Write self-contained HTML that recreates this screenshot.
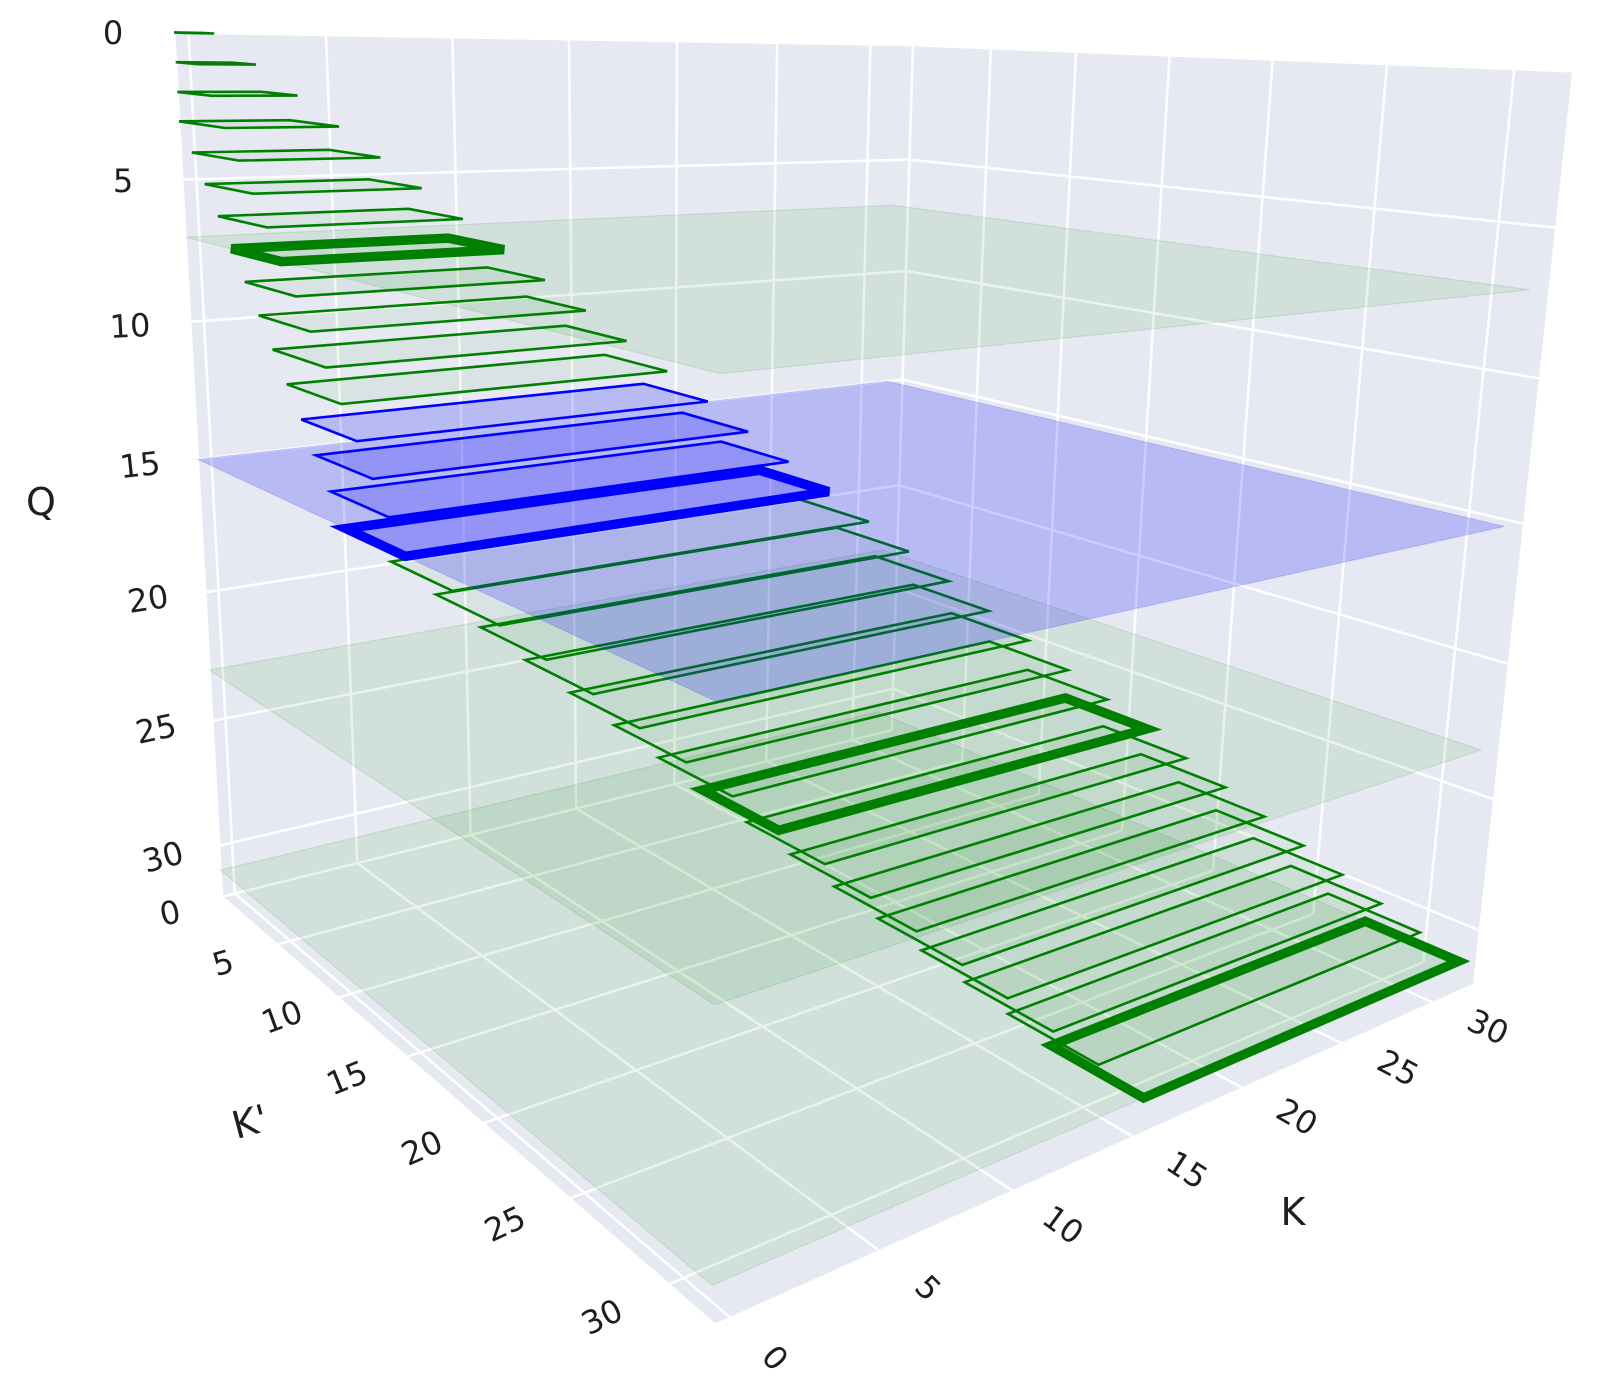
<!DOCTYPE html>
<html>
<head>
<meta charset="utf-8">
<style>
html,body{margin:0;padding:0;background:#ffffff;}
svg{display:block;}
text{font-family:"DejaVu Sans","Liberation Sans",sans-serif;fill:#1e1e1e;}
.tk{font-size:32px;}
.tt{font-size:38px;}
</style>
</head>
<body>
<svg id="s" xmlns="http://www.w3.org/2000/svg" width="1600" height="1385" viewBox="0 0 1600 1385">
<rect x="0" y="0" width="1600" height="1385" fill="#ffffff"/>
<g id="scene"></g>
<g id="labels">
  <!-- Q ticks -->
  <text class="tk" x="113" y="33" text-anchor="middle" dominant-baseline="central">0</text>
  <text class="tk" x="123" y="181" text-anchor="middle" dominant-baseline="central">5</text>
  <text class="tk" x="130" y="326" text-anchor="middle" dominant-baseline="central" transform="rotate(-3 130 326)">10</text>
  <text class="tk" x="140" y="465" text-anchor="middle" dominant-baseline="central" transform="rotate(-6 140 465)">15</text>
  <text class="tk" x="148" y="599" text-anchor="middle" dominant-baseline="central" transform="rotate(-9 148 599)">20</text>
  <text class="tk" x="156" y="729" text-anchor="middle" dominant-baseline="central" transform="rotate(-12 156 729)">25</text>
  <text class="tk" x="163" y="857" text-anchor="middle" dominant-baseline="central" transform="rotate(-15 163 857)">30</text>
  <text class="tt" x="41" y="502" text-anchor="middle" dominant-baseline="central">Q</text>
  <!-- K' ticks -->
  <text class="tk" x="170" y="913" text-anchor="middle" dominant-baseline="central" transform="rotate(-12 170 913)">0</text>
  <text class="tk" x="223" y="963" text-anchor="middle" dominant-baseline="central" transform="rotate(-16 223 963)">5</text>
  <text class="tk" x="282" y="1017" text-anchor="middle" dominant-baseline="central" transform="rotate(-20 282 1017)">10</text>
  <text class="tk" x="347" y="1078" text-anchor="middle" dominant-baseline="central" transform="rotate(-22 347 1078)">15</text>
  <text class="tk" x="422" y="1148" text-anchor="middle" dominant-baseline="central" transform="rotate(-24 422 1148)">20</text>
  <text class="tk" x="505" y="1224" text-anchor="middle" dominant-baseline="central" transform="rotate(-25 505 1224)">25</text>
  <text class="tk" x="602" y="1317" text-anchor="middle" dominant-baseline="central" transform="rotate(-26 602 1317)">30</text>
  <text class="tt" x="250" y="1122" text-anchor="middle" dominant-baseline="central" transform="rotate(-15 250 1122)">K'</text>
  <!-- K ticks -->
  <text class="tk" x="775" y="1358" text-anchor="middle" dominant-baseline="central" transform="rotate(48 775 1358)">0</text>
  <text class="tk" x="928" y="1288" text-anchor="middle" dominant-baseline="central" transform="rotate(45 928 1288)">5</text>
  <text class="tk" x="1063" y="1225" text-anchor="middle" dominant-baseline="central" transform="rotate(36 1063 1225)">10</text>
  <text class="tk" x="1187" y="1170" text-anchor="middle" dominant-baseline="central" transform="rotate(33 1187 1170)">15</text>
  <text class="tk" x="1297" y="1117" text-anchor="middle" dominant-baseline="central" transform="rotate(30 1297 1117)">20</text>
  <text class="tk" x="1398" y="1068" text-anchor="middle" dominant-baseline="central" transform="rotate(28 1398 1068)">25</text>
  <text class="tk" x="1488" y="1027" text-anchor="middle" dominant-baseline="central" transform="rotate(25 1488 1027)">30</text>
  <text class="tt" x="1293" y="1212" text-anchor="middle" dominant-baseline="central">K</text>
</g>
</svg>
<script>
(function(){
  var KMIN=-0.45,KMAX=32.4,PMIN=0,PMAX=32.1,QMIN=0,QMAX=32.1;
  var pts=[
    [-0.45,0,0,175,34],[32.4,0,0,915,45],[32.4,32.1,0,1572,71],
    [-0.45,0,32.1,220,895],[32.4,0,32.1,895,730],[32.4,32.1,32.1,1475,988],[-0.45,32.1,32.1,712,1325],
    [-0.45,0,5,183,180],[-0.45,0,10,190,320],[-0.45,0,30,217,843],
    [32.4,32.1,5,1555,227],[32.4,32.1,10,1538,378],
    [5,32.1,32.1,880,1250],[10,32.1,32.1,1010,1192],[15,32.1,32.1,1137,1137],[20,32.1,32.1,1247,1088],[25,32.1,32.1,1343,1043],
    [-0.45,5,32.1,280,945],[-0.45,10,32.1,342,998],[-0.45,15,32.1,410,1057],[-0.45,20,32.1,487,1125],[-0.45,25,32.1,573,1198],
    [0,0,0,188,34],[5,0,0,326,36],[10,0,0,454,38],[15,0,0,571,40],[20,0,0,678,41.5],[25,0,0,775,43],[30,0,0,867,44.3],
    [32.4,15,0,1170,55],[32.4,20,0,1274,59],[32.4,25,0,1388,63.5],[32.4,30,0,1516,68.5],
    [-0.5,0,2,178,92],[2.5,0,2,262,91],[2.5,3,2,297,96],[-0.5,3,2,213,97],
    [-0.5,2,5,205,183],[5.5,2,5,367,178],[5.5,6,5,421,188],[-0.5,6,5,252,193],
    [15.5,28,31,1052,1043],[15.5,32,31,1137,1092],[31.5,32,31,1452,960],[31.5,28,31,1360,923]
  ];
  function norm(K,Kp,Q){return [(K-KMIN)/(KMAX-KMIN),(Kp-PMIN)/(PMAX-PMIN),(Q-QMIN)/(QMAX-QMIN)];}
  var N=11,M=[],r=[],i,j;
  for(i=0;i<N;i++){M.push([]);r.push(0);for(j=0;j<N;j++)M[i].push(0);}
  function addRow(a,b){for(var i=0;i<N;i++){r[i]+=a[i]*b;for(var j=0;j<N;j++)M[i][j]+=a[i]*a[j];}}
  pts.forEach(function(p){
    var n=norm(p[0],p[1],p[2]),u=n[0],v=n[1],w=n[2];
    var x=(p[3]-800)/800,y=(p[4]-700)/700;
    addRow([u,v,w,1,0,0,0,0,-x*u,-x*v,-x*w],x);
    addRow([0,0,0,0,u,v,w,1,-y*u,-y*v,-y*w],y);
  });
  function solve(M,r){
    var n=r.length,A=M.map(function(row,i){return row.concat([r[i]]);}),c,k,f,t;
    for(c=0;c<n;c++){
      var piv=c;for(k=c+1;k<n;k++)if(Math.abs(A[k][c])>Math.abs(A[piv][c]))piv=k;
      t=A[c];A[c]=A[piv];A[piv]=t;
      for(k=0;k<n;k++){if(k===c)continue;f=A[k][c]/A[c][c];for(var jj=c;jj<=n;jj++)A[k][jj]-=f*A[c][jj];}
    }
    return A.map(function(row,i){return row[n]/row[i];});
  }
  var p=solve(M,r);
  function P(K,Kp,Q){
    var n=norm(K,Kp,Q),u=n[0],v=n[1],w=n[2];
    var W=p[8]*u+p[9]*v+p[10]*w+1;
    return [(p[0]*u+p[1]*v+p[2]*w+p[3])/W*800+800,(p[4]*u+p[5]*v+p[6]*w+p[7])/W*700+700];
  }
  var NS='http://www.w3.org/2000/svg',g=document.getElementById('scene');
  function poly(arr,attrs){
    var e=document.createElementNS(NS,'polygon');
    e.setAttribute('points',arr.map(function(q){return q[0].toFixed(1)+','+q[1].toFixed(1);}).join(' '));
    for(var k in attrs)e.setAttribute(k,attrs[k]);
    g.appendChild(e);
  }
  function line(a,b,attrs){
    var e=document.createElementNS(NS,'line');
    e.setAttribute('x1',a[0].toFixed(1));e.setAttribute('y1',a[1].toFixed(1));
    e.setAttribute('x2',b[0].toFixed(1));e.setAttribute('y2',b[1].toFixed(1));
    for(var k in attrs)e.setAttribute(k,attrs[k]);
    g.appendChild(e);
  }
  var pane='#E7E9F2';
  poly([P(KMIN,0,0),P(KMAX,0,0),P(KMAX,0,QMAX),P(KMIN,0,QMAX)],{fill:pane});
  poly([P(KMAX,0,0),P(KMAX,PMAX,0),P(KMAX,PMAX,QMAX),P(KMAX,0,QMAX)],{fill:pane});
  poly([P(KMIN,0,QMAX),P(KMAX,0,QMAX),P(KMAX,PMAX,QMAX),P(KMIN,PMAX,QMAX)],{fill:pane});
  var ga={stroke:'#ffffff','stroke-width':2.5};
  var t;
  for(t=0;t<=30;t+=5){
    line(P(t,0,0),P(t,0,QMAX),ga);
    line(P(KMIN,0,t),P(KMAX,0,t),ga);
    line(P(KMAX,t,0),P(KMAX,t,QMAX),ga);
    line(P(KMAX,0,t),P(KMAX,PMAX,t),ga);
    line(P(t,0,QMAX),P(t,PMAX,QMAX),ga);
    line(P(KMIN,t,QMAX),P(KMAX,t,QMAX),ga);
  }
  for(var q=31;q>=0;q--){
    if(q===7||q===15||q===23||q===31){
      var blueP=(q===15);
      poly([P(-0.5,0,q),P(31.5,0,q),P(31.5,32,q),P(-0.5,32,q)],{
        fill:blueP?'rgba(0,0,255,0.2)':'rgba(0,128,0,0.09)',
        stroke:blueP?'rgba(0,0,255,0.12)':'rgba(0,128,0,0.12)','stroke-width':1.2
      });
    }
    var k0=Math.max(0,q-15)-0.5,k1=q+0.5,p0=Math.max(0,q-3),p1=q+1;
    var blue=(q>=12&&q<=15);
    var thick=(q===7||q===15||q===23||q===31);
    poly([P(k0,p0,q),P(k1,p0,q),P(k1,p1,q),P(k0,p1,q)],{
      fill:blue?'rgba(0,0,255,0.2)':'rgba(0,128,0,0.06)',
      stroke:blue?'#0000ff':'#008000',
      'stroke-width':thick?9.5:2.6,
      'stroke-linejoin':'miter'
    });
  }
})();
</script>
</body>
</html>
